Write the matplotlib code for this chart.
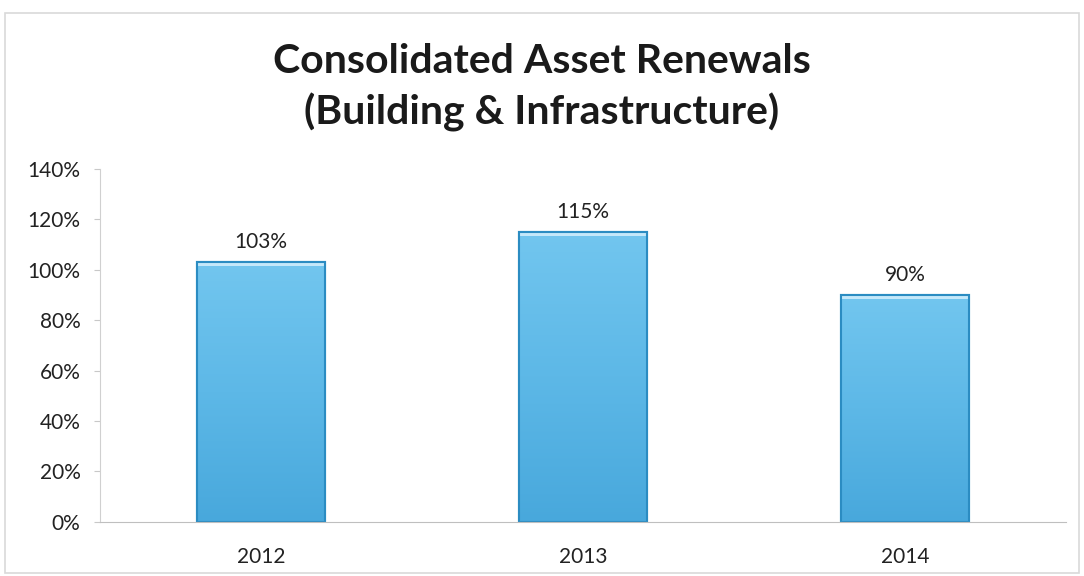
import numpy as np
import matplotlib
matplotlib.use("Agg")
import matplotlib.pyplot as plt
from matplotlib.patches import Rectangle
from matplotlib.colors import LinearSegmentedColormap

# renewal ratio per year
years = ["2012", "2013", "2014"]
renewals = [103, 115, 90]
y_ticks = [0, 20, 40, 60, 80, 100, 120, 140]

plt.rcParams['font.family'] = ['Lato', 'DejaVu Sans']

fig = plt.figure(figsize=(10.84, 5.76), dpi=100)
ax = fig.add_axes([0.0923, 0.094, 0.891, 0.613])

# light outer border of the chart area
fig.patches.append(Rectangle((0.005, 0.005), 0.99, 0.972, transform=fig.transFigure,
                             fill=False, edgecolor="#d9d9d9", linewidth=1.2))

x = np.arange(len(years))
bars = ax.bar(x, renewals, width=0.40, color="#5ab6e6", edgecolor="#2b8cc2",
              linewidth=1.5, zorder=2)

# vertical gradient inside each bar
grad_cmap = LinearSegmentedColormap.from_list("bar", ["#48a8dc", "#5db8e7", "#72c6ef"])
grad = np.linspace(0, 1, 256).reshape(-1, 1)
for b in bars:
    x0, w, h = b.get_x(), b.get_width(), b.get_height()
    im = ax.imshow(grad, cmap=grad_cmap, origin="lower", aspect="auto",
                   extent=(x0, x0 + w, 0, h), zorder=2.1)
    im.set_clip_path(b)
    # light highlight along the top edge
    ax.add_patch(Rectangle((x0, h - 1.6), w, 1.6, facecolor="#c4e8fa",
                           edgecolor="none", zorder=2.2))
    ax.add_patch(Rectangle((x0, 0), w, h, fill=False, edgecolor="#2b8cc2",
                           linewidth=1.5, zorder=2.3))
    ax.text(b.get_x() + w / 2, h + 4, f"{h:.0f}%", ha="center", va="bottom",
            fontsize=15, color="#222222")

ax.set_xlim(-0.5, len(years) - 0.5)
ax.set_ylim(0, 140)
ax.set_yticks(y_ticks)
ax.set_yticklabels([f"{t}%" for t in y_ticks], fontsize=15, color="#222222")
ax.set_xticks(x)
ax.set_xticklabels(years, fontsize=15, color="#222222")
ax.tick_params(axis="x", length=0, pad=18)
ax.tick_params(axis="y", length=4, color="#c8c8c8", pad=10)

for s in ["top", "right"]:
    ax.spines[s].set_visible(False)
ax.spines["left"].set_color("#d0d0d0")
ax.spines["bottom"].set_color("#bfbfbf")

fig.text(0.5, 0.848, "Consolidated Asset Renewals\n(Building & Infrastructure)",
         ha="center", va="center", fontsize=29.5, fontweight="bold",
         color="#1a1a1a", linespacing=1.4)

fig.savefig("out.png", dpi=100)
